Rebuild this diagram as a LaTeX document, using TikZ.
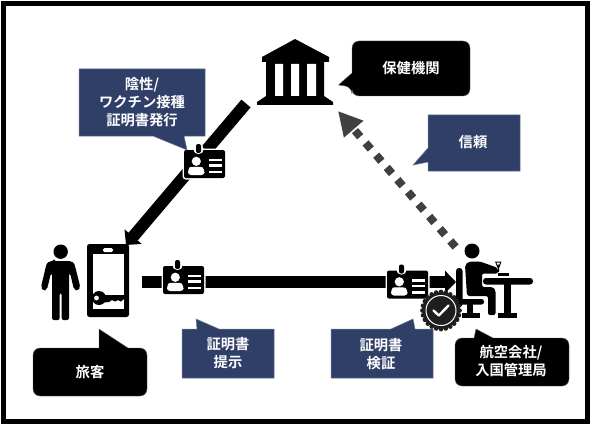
\documentclass[tikz,border=0pt]{standalone}
\usepackage{fontspec}
\setmainfont{Noto Sans CJK JP}
\newfontfamily\lblfont{Noto Sans CJK JP Bold}
\usetikzlibrary{arrows.meta,positioning}
\definecolor{navy}{HTML}{2F3F68}
\definecolor{dotgray}{HTML}{404040}
\definecolor{badge}{HTML}{1E1E1E}
\tikzset{
  x=1pt,y=-1pt,
  lbl/.style={text=white,font=\lblfont\fontsize{14.3}{18}\selectfont,align=center,inner sep=0pt},
  navybox/.style={fill=navy,draw=navy!70!white,line width=.5pt},
  blackbox/.style={fill=black,draw=black!60,line width=.4pt},
  thickarrow/.style={line width=12pt,black,-{Triangle[length=11pt,width=22pt]}},
  dotarrow/.style={line width=8pt,dotgray,dash pattern=on 8pt off 8.2pt,-{Triangle[length=24pt,width=24pt]}},
  pics/idcard/.style={code={
    \fill[black,rounded corners=2pt,draw=white,line width=3pt] (0,0) rectangle (41,28);
    \fill[black,rounded corners=2pt] (0,0) rectangle (41,28);
    \fill[white] (14.5,-1) circle (5.2);
    \fill[black,rounded corners=2pt] (12,-6) rectangle (17,3);
    \fill[white] (12.3,11.3) circle (4.6);
    \fill[white,rounded corners=3pt] (4,25) -- (4,20) .. controls (6,16.5) and (18,16.5) .. (20.5,20) -- (20.5,25) -- cycle;
    \foreach \ly in {10,15.5,22}{\fill[white] (25,\ly-1.4) rectangle (38,\ly+1.4);}
  }}
}
\begin{document}
\begin{tikzpicture}
\useasboundingbox (0,0) rectangle (591,425);
\fill[white] (0,0) rectangle (591,425);
\draw[black,line width=5pt] (3.5,3.5) rectangle (587.5,421.5);

% connector end points
\coordinate (bankEnd) at (246,103.5);
\coordinate (phoneTip) at (126,245);
\coordinate (phoneOut) at (142,282);
\coordinate (officerIn) at (456,282);
\coordinate (officerOut) at (455.6,247);
\coordinate (bankIn) at (338,111);

% connectors
\draw[thickarrow] (bankEnd) -- (phoneTip);
\draw[thickarrow] (phoneOut) -- (officerIn);
\draw[dotarrow] (officerOut) -- (bankIn);

% bank
\fill[black] (295,39) -- (329,57) -- (329,62) -- (324,62) -- (324,96) -- (333,102) -- (333,105) -- (257,105) -- (257,102) -- (266,96) -- (266,62) -- (262,62) -- (262,57) -- cycle;
\fill[white] (275,64) rectangle (283,96) (291,64) rectangle (299,96) (307,64) rectangle (316,96);

% id cards
\pic at (184,150) {idcard};
\pic at (163,266) {idcard};
\pic at (387,270.5) {idcard};

% traveller
\fill[black] (60.7,251.7) circle (7.2);
\fill[black,rounded corners=2pt] (54,261) -- (67,261) .. controls (72,261) and (74,263) .. (75,266) -- (80.3,287) -- (78,291) -- (74,289.5) -- (70,273) -- (69,273) -- (69,320) -- (61.7,320) -- (61.7,293) -- (59.7,293) -- (59.7,320) -- (52,320) -- (52,273) -- (51,273) -- (47,289.5) -- (43,291) -- (41,287) -- (46,266) .. controls (47,263) and (49,261) .. (54,261) -- cycle;

% phone
\fill[black,rounded corners=2.5pt] (87,244) rectangle (129,317);
\fill[white] (92.5,254) rectangle (124.3,309);
\fill[white,rounded corners=1.5pt] (103,248) rectangle (113,252);
\fill[black] (99,298) circle (7);
\fill[black] (99,295) -- (124,295) -- (124,299) -- (121,301.5) -- (118,300) -- (115,301.5) -- (112,300) -- (109,302) -- (99,303) -- cycle;
\fill[white] (96.5,298) circle (2.4);

% officer
\fill[black] (472,251) circle (7.5);
\fill[black,rounded corners=3pt] (456,268) rectangle (462.5,307);
\fill[black,rounded corners=2.5pt] (456,299) rectangle (484,304.5);
\fill[black] (467,303) rectangle (473,314);
\fill[black] (461.5,313) rectangle (480,318);
\fill[black,rounded corners=2pt] (465,265) -- (469,261.5) -- (480,261.5) -- (498,268) -- (498,273.5) -- (482,273.5) -- (482,287) -- (493,287) -- (495.5,290) -- (495.5,315) -- (488,315) -- (488,296) -- (467,296) -- cycle;
\fill[black,rounded corners=3pt] (483,278) rectangle (533,284.5);
\fill[black] (504,283) rectangle (511,314);
\fill[black] (498,313) rectangle (516.5,318);
\fill[black] (495,261.5) -- (501.5,261.5) -- (499,268.5) -- (499,272) -- (497.8,272) -- (497.8,268.5) -- cycle;
\fill[white] (496.5,262.5) -- (500,262.5) -- (499.3,264.5) -- (497.2,264.5) -- cycle;
\fill[black] (498,273) rectangle (508.5,275.5);

% badge
\fill[badge] (441,310.5) circle (18.5);
\foreach \a in {0,15,...,345}{\fill[badge] (441,310.5) ++(\a:18.6) circle (2.3);}
\draw[white,line width=1pt] (441,310.5) circle (15);
\draw[white,line width=2.4pt,line cap=round,line join=round] (433.5,310.5) -- (438.8,315.5) -- (448.5,305.5);

% callouts
\draw[navybox] (79,69) -- (205,69) -- (205,136) -- (184,136) -- (187,150) -- (153,136) -- (79,136) -- cycle;
\node[lbl] (issue) at (142,102) {陰性/\\ワクチン接種\\証明書発行};

\draw[blackbox,rounded corners=7pt] (352,41) -- (470,41) -- (470,96) -- (352,96) -- (352,87) [sharp corners] -- (338.5,85) -- (352,73) [rounded corners=7pt] -- cycle;
\node[lbl] (health) at (411,68) {保健機関};

\draw[navybox] (428,115) -- (520,115) -- (520,171) -- (428,171) -- (428,162) -- (413,165) -- (428,148) -- cycle;
\node[lbl] (trust) at (473,142) {信頼};

\draw[blackbox,rounded corners=7pt] (33,348) [sharp corners] -- (99,348) -- (99,329) -- (128,348) [rounded corners=7pt] -- (147,348) -- (147,396) -- (33,396) -- cycle;
\node[lbl] (traveller) at (90,372) {旅客};

\draw[navybox] (182,329) -- (197,329) -- (196,319) -- (219,329) -- (274,329) -- (274,378) -- (182,378) -- cycle;
\node[lbl] (present) at (228,353) {証明書\\提示};

\draw[navybox] (331,329) -- (391,329) -- (413,319) -- (415,329) -- (433,329) -- (433,378) -- (331,378) -- cycle;
\node[lbl] (verify) at (381,354) {証明書\\検証};

\draw[blackbox,rounded corners=7pt] (455,338) [sharp corners] -- (474,338) -- (476,329) -- (493,338) [rounded corners=7pt] -- (569,338) -- (569,386) -- (455,386) -- cycle;
\node[lbl] (airline) at (511,361) {航空会社/\\入国管理局};
\end{tikzpicture}
\end{document}
